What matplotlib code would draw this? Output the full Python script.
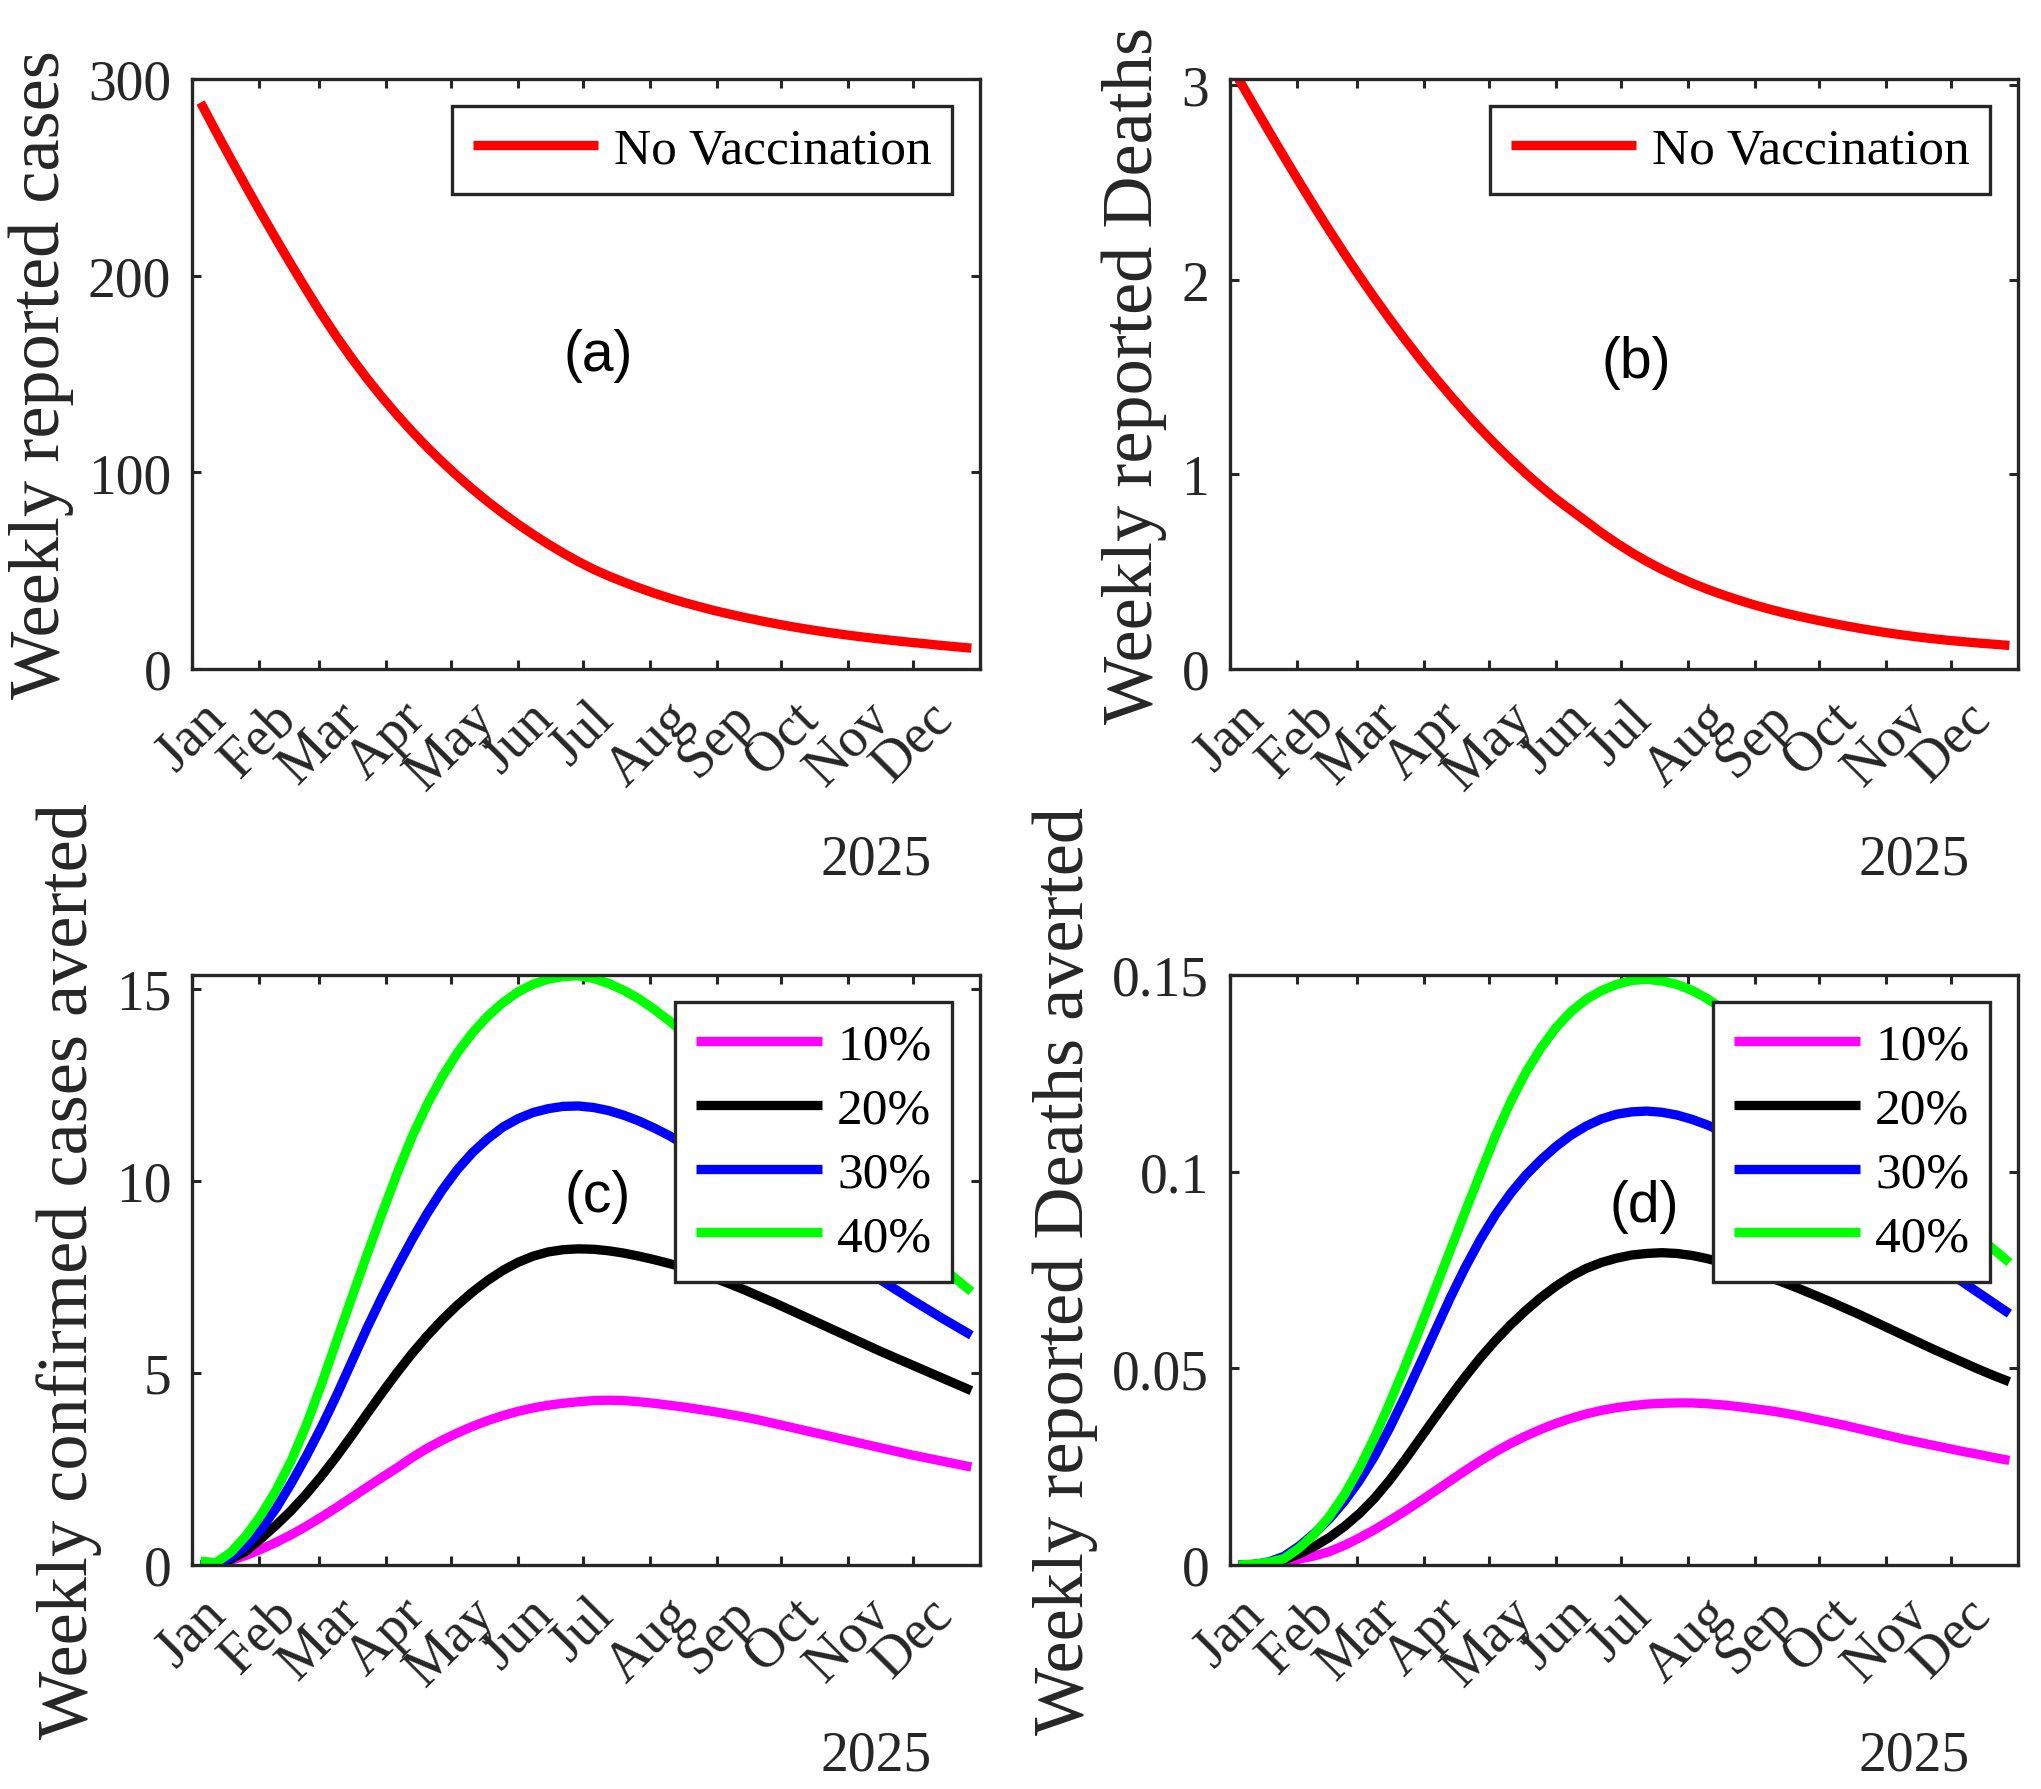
import numpy as np
import pandas as pd
import matplotlib
matplotlib.use("Agg")
import matplotlib.pyplot as plt

# ---------------- data ----------------
weeks = pd.date_range("2025-01-05", periods=52, freq="7D")
month_ticks = pd.date_range("2025-01-01", periods=12, freq="MS")
month_labels = ["Jan", "Feb", "Mar", "Apr", "May", "Jun",
                "Jul", "Aug", "Sep", "Oct", "Nov", "Dec"]
year_label = "2025"

cases_no_vacc = [288, 273.5, 259.3, 245.4, 231.8, 218.5, 205.5, 192.8, 180.5, 168.9,
                 158.0, 147.8, 138.2, 129.2, 120.7, 112.7, 105.2, 98.1, 91.4, 85.1,
                 79.2, 73.6, 68.4, 63.5, 58.9, 54.6, 50.7, 47.3, 44.2, 41.3,
                 38.6, 36.1, 33.8, 31.7, 29.7, 27.9, 26.2, 24.6, 23.1, 21.7,
                 20.4, 19.2, 18.1, 17.05, 16.1, 15.2, 14.35, 13.55, 12.8, 12.0,
                 11.3, 10.6]

deaths_no_vacc = [3.03, 2.895, 2.762, 2.631, 2.502, 2.376, 2.253, 2.133, 2.017, 1.905,
                  1.797, 1.693, 1.593, 1.497, 1.405, 1.317, 1.233, 1.153, 1.077, 1.005,
                  0.937, 0.873, 0.815, 0.758, 0.700, 0.647, 0.598, 0.553, 0.512, 0.475,
                  0.441, 0.410, 0.382, 0.356, 0.332, 0.310, 0.290, 0.272, 0.255, 0.239,
                  0.224, 0.210, 0.197, 0.185, 0.174, 0.164, 0.155, 0.147, 0.140, 0.133,
                  0.127, 0.121]

cases_averted_10 = [0.0, 0.03, 0.12, 0.25, 0.41, 0.59, 0.79, 1.01, 1.25, 1.50,
                    1.76, 2.02, 2.28, 2.53, 2.80, 3.04, 3.25, 3.44, 3.61, 3.76,
                    3.89, 4.00, 4.09, 4.16, 4.21, 4.25, 4.28, 4.29, 4.28, 4.25,
                    4.21, 4.16, 4.11, 4.05, 3.99, 3.92, 3.85, 3.77, 3.68, 3.59,
                    3.50, 3.41, 3.32, 3.23, 3.14, 3.05, 2.96, 2.87, 2.79, 2.71,
                    2.63, 2.55]
cases_averted_20 = [0.0, 0.02, 0.15, 0.36, 0.69, 1.04, 1.42, 1.85, 2.32, 2.83,
                    3.37, 3.93, 4.48, 5.01, 5.51, 5.97, 6.39, 6.77, 7.11, 7.41,
                    7.67, 7.88, 8.04, 8.15, 8.21, 8.23, 8.22, 8.18, 8.12, 8.04,
                    7.95, 7.85, 7.74, 7.61, 7.47, 7.32, 7.16, 6.99, 6.82, 6.64,
                    6.46, 6.28, 6.10, 5.92, 5.74, 5.56, 5.39, 5.22, 5.05, 4.88,
                    4.71, 4.54]
cases_averted_30 = [0.0, 0.03, 0.20, 0.50, 0.93, 1.48, 2.13, 2.84, 3.60, 4.42,
                    5.29, 6.16, 6.98, 7.75, 8.48, 9.16, 9.77, 10.30, 10.74, 11.10,
                    11.40, 11.62, 11.78, 11.88, 11.94, 11.95, 11.91, 11.83, 11.71, 11.56,
                    11.38, 11.18, 10.95, 10.70, 10.44, 10.17, 9.89, 9.61, 9.33, 9.05,
                    8.77, 8.49, 8.22, 7.95, 7.68, 7.42, 7.17, 6.92, 6.68, 6.44,
                    6.21, 5.98]
cases_averted_40 = [0.10, 0.06, 0.33, 0.76, 1.30, 1.95, 2.72, 3.65, 4.71, 5.84,
                    6.96, 8.07, 9.15, 10.19, 11.16, 12.00, 12.72, 13.34, 13.86, 14.29,
                    14.64, 14.92, 15.12, 15.25, 15.32, 15.34, 15.27, 15.14, 14.96, 14.74,
                    14.47, 14.17, 13.84, 13.49, 13.13, 12.76, 12.39, 12.02, 11.65, 11.28,
                    10.92, 10.56, 10.20, 9.84, 9.48, 9.13, 8.78, 8.44, 8.10, 7.77,
                    7.44, 7.12]

deaths_averted_10 = [0.0, 0.0002, 0.0005, 0.0009, 0.0015, 0.0023, 0.0034, 0.0050, 0.0069, 0.0090,
                     0.0113, 0.0137, 0.0162, 0.0188, 0.0214, 0.0240, 0.0265, 0.0288, 0.0309, 0.0328,
                     0.0345, 0.0360, 0.0373, 0.0384, 0.0393, 0.0400, 0.0405, 0.0409, 0.0411, 0.0412,
                     0.0412, 0.0410, 0.0407, 0.0403, 0.0398, 0.0393, 0.0387, 0.0380, 0.0372, 0.0364,
                     0.0356, 0.0347, 0.0338, 0.0329, 0.0320, 0.0312, 0.0304, 0.0296, 0.0288, 0.0281,
                     0.0273, 0.0266]
deaths_averted_20 = [0.0, 0.0001, 0.0005, 0.0013, 0.0028, 0.0047, 0.0070, 0.0098, 0.0131, 0.0170,
                     0.0216, 0.0267, 0.0321, 0.0375, 0.0428, 0.0479, 0.0527, 0.0571, 0.0611, 0.0647,
                     0.0680, 0.0709, 0.0734, 0.0754, 0.0769, 0.0780, 0.0788, 0.0792, 0.0794, 0.0792,
                     0.0787, 0.0779, 0.0769, 0.0758, 0.0746, 0.0733, 0.0719, 0.0704, 0.0688, 0.0672,
                     0.0655, 0.0638, 0.0620, 0.0602, 0.0584, 0.0566, 0.0548, 0.0531, 0.0514, 0.0497,
                     0.0481, 0.0466]
deaths_averted_30 = [0.0, 0.0001, 0.0008, 0.0022, 0.0048, 0.0080, 0.0117, 0.0162, 0.0215, 0.0277,
                     0.0349, 0.0428, 0.0511, 0.0595, 0.0679, 0.0757, 0.0828, 0.0891, 0.0945, 0.0991,
                     0.1030, 0.1064, 0.1093, 0.1116, 0.1134, 0.1146, 0.1152, 0.1154, 0.1151, 0.1144,
                     0.1133, 0.1119, 0.1102, 0.1083, 0.1062, 0.1040, 0.1017, 0.0993, 0.0969, 0.0945,
                     0.0921, 0.0896, 0.0871, 0.0846, 0.0821, 0.0795, 0.0769, 0.0743, 0.0717, 0.0691,
                     0.0665, 0.0639]
deaths_averted_40 = [0.0, 0.0002, 0.0007, 0.0016, 0.0043, 0.0078, 0.0123, 0.0179, 0.0247, 0.0325,
                     0.0412, 0.0505, 0.0602, 0.0701, 0.0800, 0.0899, 0.0996, 0.1092, 0.1178, 0.1252,
                     0.1314, 0.1366, 0.1407, 0.1438, 0.1460, 0.1476, 0.1486, 0.1489, 0.1485, 0.1476,
                     0.1461, 0.1440, 0.1415, 0.1383, 0.1348, 0.1313, 0.1276, 0.1242, 0.1208, 0.1174,
                     0.1140, 0.1106, 0.1072, 0.1038, 0.1004, 0.0970, 0.0936, 0.0902, 0.0868, 0.0834,
                     0.0801, 0.0769]

coverage_labels = ["10%", "20%", "30%", "40%"]
no_vacc_label = "No Vaccination"

yticks_a = [0, 100, 200, 300]
yticks_b = [0, 1, 2, 3]
yticks_c = [0, 5, 10, 15]
yticks_d = [0, 0.05, 0.1, 0.15]

# ---------------- style ----------------
SERIF = ["Liberation Serif", "DejaVu Serif"]
SANS = ["Liberation Sans", "DejaVu Sans"]
AXC = "#262626"
plt.rcParams["font.family"] = SERIF

TICK_FS = 40
LABEL_FS = 52
LEG_FS = 37
LETTER_FS = 41
LW = 6.7

fig = plt.figure(figsize=(20.41, 17.90), dpi=100)
W, H = 2041.0, 1790.0


def make_axes(left_px, top_px):
    return fig.add_axes([left_px / W, 1 - (top_px + 590) / H, 788 / W, 590 / H])


def style(ax, ylim, yticks, ylabel, letter, letter_xy):
    ax.set_xlim(pd.Timestamp("2025-01-01"), pd.Timestamp("2026-01-01"))
    ax.set_ylim(*ylim)
    ax.set_xticks(month_ticks)
    ax.set_xticklabels(month_labels, rotation=45, ha="center",
                       rotation_mode="default")
    ax.set_yticks(yticks)
    ax.set_yticklabels(["%g" % v for v in yticks])
    ax.tick_params(direction="in", length=6.5, width=2.2, top=True, right=True,
                   colors=AXC, labelsize=TICK_FS)
    ax.tick_params(axis="y", pad=15)
    ax.tick_params(axis="x", pad=16)
    for s in ax.spines.values():
        s.set_linewidth(2.4)
        s.set_color(AXC)
    ax.set_ylabel(ylabel, fontsize=LABEL_FS, color=AXC, labelpad=10)
    ax.text(letter_xy[0], letter_xy[1], letter, transform=ax.transAxes,
            family=SANS, fontsize=LETTER_FS, ha="center", va="center",
            color="black")
    ax.text(0.868, -0.323, year_label, transform=ax.transAxes,
            fontsize=TICK_FS, ha="center", va="center", color=AXC)


def add_legend(ax):
    leg = ax.legend(loc="upper right", bbox_to_anchor=(0.9645, 0.954),
                    borderaxespad=0, fontsize=LEG_FS, frameon=True,
                    fancybox=False, edgecolor=AXC, framealpha=1,
                    handlelength=2.45, handletextpad=0.3, borderpad=0.4,
                    labelspacing=0.33)
    leg.get_frame().set_linewidth(2.4)
    return leg


line_kw = dict(linewidth=LW, solid_capstyle="butt", solid_joinstyle="round")
series_colors = ["#ff00ff", "#000000", "#0000ff", "#00ff00"]

# (a)
ax_a = make_axes(192, 80)
ax_a.plot(weeks, cases_no_vacc, color="#ff0000", label=no_vacc_label, **line_kw)
style(ax_a, (0, 300), yticks_a, "Weekly reported cases", "(a)", (0.515, 0.532))
add_legend(ax_a)

# (b)
ax_b = make_axes(1230, 80)
ax_b.plot(weeks, deaths_no_vacc, color="#ff0000", label=no_vacc_label, **line_kw)
style(ax_b, (0, 3.03), yticks_b, "Weekly reported Deaths", "(b)", (0.515, 0.52))
add_legend(ax_b)

# (c)
ax_c = make_axes(192, 976)
for vals, col, lab in zip([cases_averted_10, cases_averted_20,
                           cases_averted_30, cases_averted_40],
                          series_colors, coverage_labels):
    ax_c.plot(weeks, vals, color=col, label=lab, **line_kw)
style(ax_c, (0, 15.36), yticks_c, "Weekly confirmed cases averted", "(c)", (0.515, 0.625))
add_legend(ax_c)

# (d)
ax_d = make_axes(1230, 976)
for vals, col, lab in zip([deaths_averted_10, deaths_averted_20,
                           deaths_averted_30, deaths_averted_40],
                          series_colors, coverage_labels):
    ax_d.plot(weeks, vals, color=col, label=lab, **line_kw)
style(ax_d, (0, 0.15), yticks_d, "Weekly reported Deaths averted", "(d)", (0.526, 0.609))
add_legend(ax_d)

fig.savefig("out.png", dpi=100, facecolor="white")
